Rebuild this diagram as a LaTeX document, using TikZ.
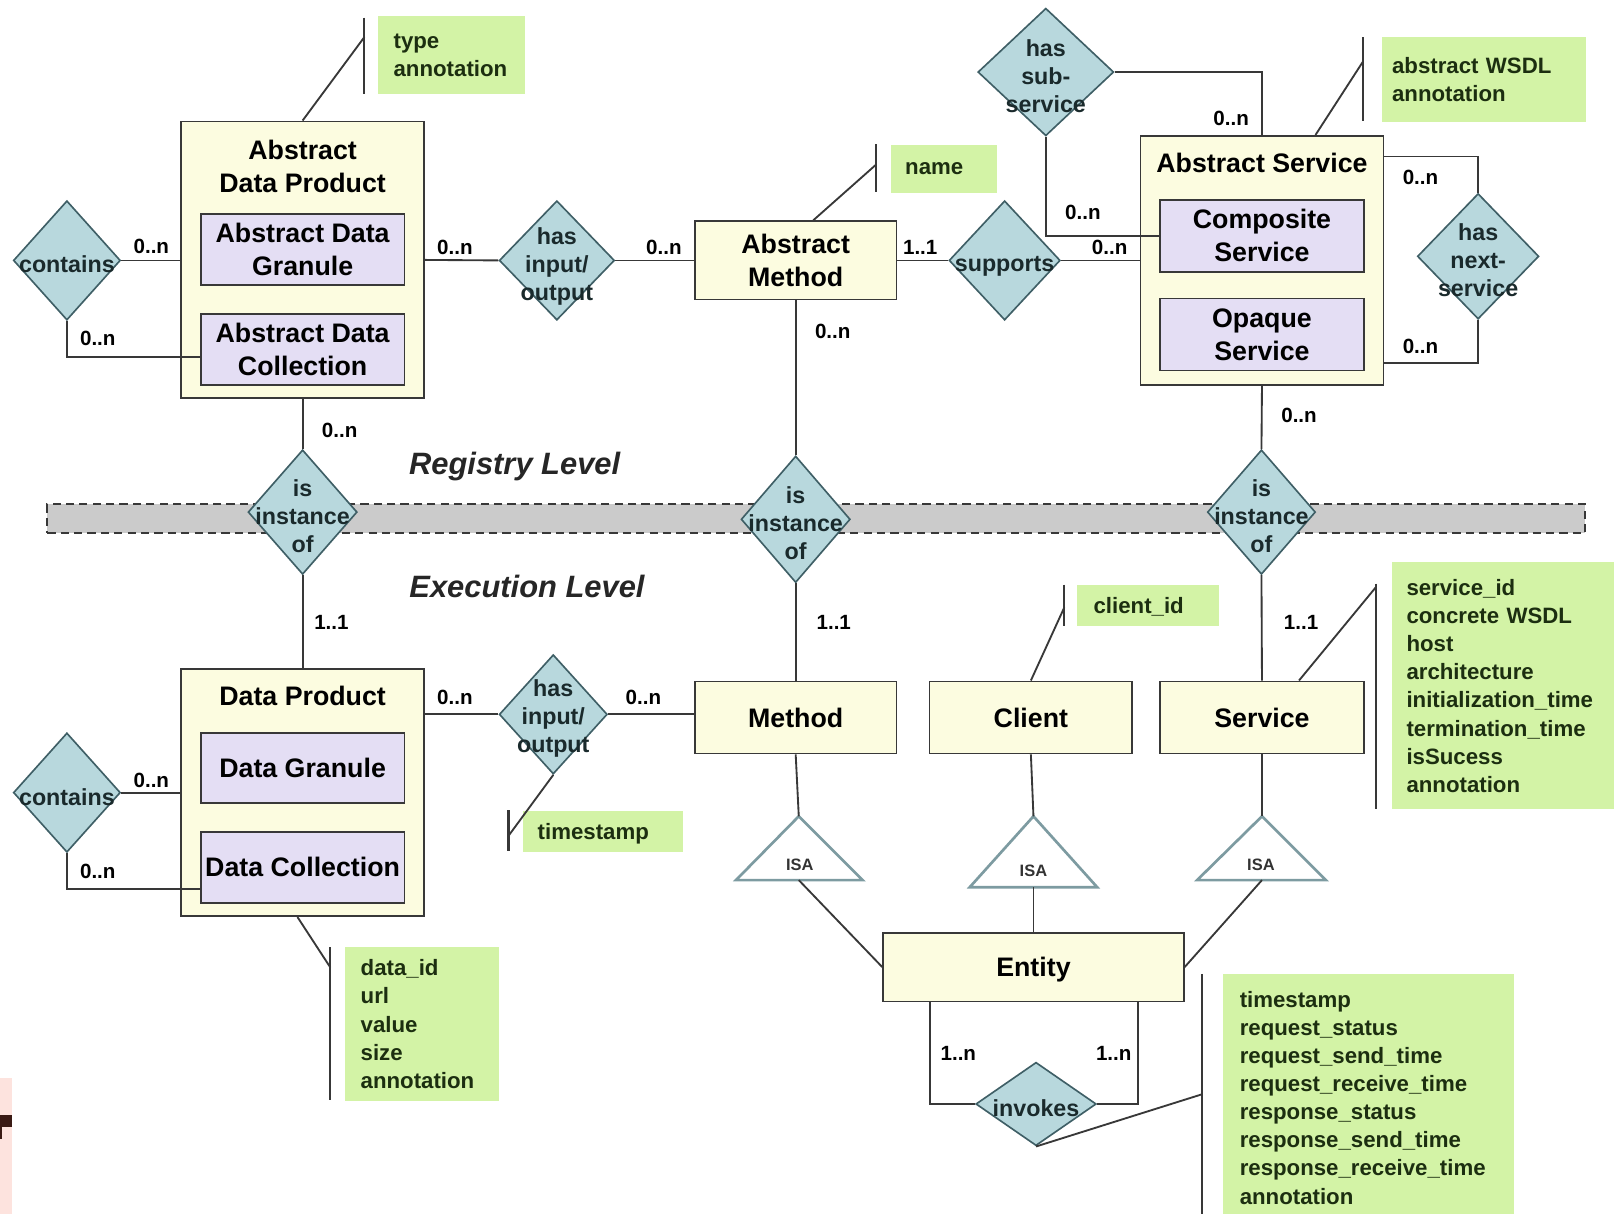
\documentclass[tikz,border=0pt]{standalone}
\usepackage{fontspec}
\setmainfont{Liberation Sans}
\usetikzlibrary{shapes.geometric,calc}
\definecolor{entfill}{HTML}{FCFCE0}
\definecolor{subfill}{HTML}{E4DEF4}
\definecolor{diafill}{HTML}{B8D8DD}
\definecolor{diaedge}{HTML}{3F5F66}
\definecolor{attrfill}{HTML}{D3F3A6}
\definecolor{attrtext}{HTML}{1C2E10}
\definecolor{bandfill}{HTML}{CBCBCB}
\definecolor{linegray}{HTML}{383838}
\definecolor{isaedge}{HTML}{7D9BA1}
\definecolor{reltext}{HTML}{1A2A2C}
\definecolor{artpink}{HTML}{FDE3DE}
\definecolor{artdark}{HTML}{3A1A14}
\newcommand{\entityfont}{\fontsize{13}{16}\selectfont\bfseries}
\newcommand{\relfont}{\fontsize{11.3}{13.7}\selectfont\bfseries}
\newcommand{\cardfont}{\fontsize{10}{12}\selectfont\bfseries}
\newcommand{\attrfont}{\fontsize{10.8}{13.65}\selectfont\bfseries}
\newcommand{\levelfont}{\fontsize{15}{18}\selectfont\bfseries\itshape}
\newcommand{\isafont}{\fontsize{8}{10}\selectfont\bfseries}
\tikzset{
  entity/.style={draw=linegray,fill=entfill,line width=0.9pt,inner sep=0pt,align=center,font=\entityfont,text=black},
  subentity/.style={entity,fill=subfill},
  oneline/.style={text depth=0pt},
  relation/.style={diamond,draw=diaedge,fill=diafill,line width=0.8pt,inner sep=0pt},
  rellabel/.style={font=\relfont,align=center,text=reltext,inner sep=0pt,yshift=-2pt},
  card/.style={font=\cardfont,text=black,inner sep=0pt},
  attrs/.style={fill=attrfill,font=\attrfont,text=attrtext,align=left,anchor=north west,inner xsep=7pt,inner ysep=0pt},
  conn/.style={draw=linegray,line width=0.9pt},
  attrbar/.style={draw=linegray,line width=1pt},
  isa/.style={draw=isaedge,fill=white,line width=1.3pt,line join=miter},
}
\begin{document}
\begin{tikzpicture}[x=0.5pt,y=-0.5pt]
\useasboundingbox (0,0) rectangle (1568,1179);
% scrap of the next slide
\fill[artpink] (0,1047) rectangle (12,1179);
\fill[artdark] (0,1083) rectangle (12,1095);
\fill[artdark] (0,1095) rectangle (2,1107);
%
% level band
\node (band) [draw=linegray,dashed,dash pattern=on 4pt off 2.5pt,fill=bandfill,line width=0.9pt,minimum width=747pt,minimum height=14pt,inner sep=0pt] at (793,504) {};
\node (reglevel) [font=\levelfont,text=black!85] at (500,453) {Registry Level};
\node (exelevel) [font=\levelfont,text=black!85] at (512,570) {Execution Level};
%
% registry level entities
\node (adp) [entity,minimum width=118pt,minimum height=134.5pt] at (294,252.5) {};
\node (adptitle) [font=\entityfont,align=center] at (294,162) {Abstract\\Data Product};
\node (adg) [subentity,minimum width=99pt,minimum height=34.5pt] at (294,242.5) {Abstract Data\\Granule};
\node (adc) [subentity,minimum width=99pt,minimum height=34.5pt] at (294,339.5) {Abstract Data\\Collection};
\node (am) [entity,minimum width=98pt,minimum height=38pt] at (773,253) {Abstract\\Method};
\node (as) [entity,minimum width=118pt,minimum height=121pt] at (1226,253) {};
\node (astitle) [font=\entityfont,oneline] at (1226,158) {Abstract Service};
\node (cs) [subentity,minimum width=99pt,minimum height=35pt] at (1226,229) {Composite\\Service};
\node (os) [subentity,minimum width=99pt,minimum height=35pt] at (1226,325) {Opaque\\Service};
%
% execution level entities
\node (dp) [entity,minimum width=118pt,minimum height=120pt] at (294,770) {};
\node (dptitle) [font=\entityfont,oneline] at (294,676) {Data Product};
\node (dg) [subentity,oneline,minimum width=99pt,minimum height=34pt] at (294,746) {Data Granule};
\node (dc) [subentity,oneline,minimum width=99pt,minimum height=34.5pt] at (294,842.5) {Data Collection};
\node (meth) [entity,oneline,minimum width=98pt,minimum height=35pt] at (773,697) {Method};
\node (cli) [entity,oneline,minimum width=98.5pt,minimum height=35pt] at (1001.5,697) {Client};
\node (serv) [entity,oneline,minimum width=99pt,minimum height=35pt] at (1226,697) {Service};
\node (ent) [entity,oneline,minimum width=146pt,minimum height=33.5pt] at (1004,939.5) {Entity};
%
% relationships
\node (cont1) [relation,minimum width=52pt,minimum height=58pt,label={[rellabel]center:contains}] at (65,253) {};
\node (hio1) [relation,minimum width=56pt,minimum height=58pt,label={[rellabel,yshift=-1pt]center:{has\\input/\\output}}] at (541,253) {};
\node (sup) [relation,minimum width=54pt,minimum height=58pt,label={[rellabel,yshift=-1pt]center:supports}] at (976,253) {};
\node (hss) [relation,minimum width=66pt,minimum height=62pt,label={[rellabel]center:{has\\sub-\\service}}] at (1016,70) {};
\node (hns) [relation,minimum width=59pt,minimum height=61pt,label={[rellabel]center:{has\\next-\\service}}] at (1436,249) {};
\node (iio1) [relation,minimum width=53pt,minimum height=60.5pt,label={[rellabel]center:{is\\instance\\of}}] at (294,497.5) {};
\node (iio2) [relation,minimum width=53pt,minimum height=61.5pt,label={[rellabel]center:{is\\instance\\of}}] at (773,504.5) {};
\node (iio3) [relation,minimum width=52.5pt,minimum height=60.5pt,label={[rellabel]center:{is\\instance\\of}}] at (1225.5,497.5) {};
\node (cont2) [relation,minimum width=52pt,minimum height=58pt,label={[rellabel]center:contains}] at (65,770) {};
\node (hio2) [relation,minimum width=52.5pt,minimum height=58pt,label={[rellabel]center:{has\\input/\\output}}] at (537.5,694) {};
\node (inv) [relation,minimum width=58.5pt,minimum height=40.5pt,label={[rellabel]center:invokes}] at (1006.5,1072.5) {};
%
% ISA triangles
\coordinate (isa1top) at (776,793); \coordinate (isa1base) at (776,855);
\coordinate (isa2top) at (1004,793); \coordinate (isa2base) at (1004,862);
\coordinate (isa3top) at (1226,793); \coordinate (isa3base) at (1226,855);
\draw[isa] (isa1top) -- (838,855) -- (715,855) -- cycle;
\draw[isa] (isa2top) -- (1066,862) -- (942,862) -- cycle;
\draw[isa] (isa3top) -- (1288,855) -- (1163,855) -- cycle;
\node (isa1) [font=\isafont,text=black!80] at (777,840) {ISA};
\node (isa2) [font=\isafont,text=black!80] at (1004,846) {ISA};
\node (isa3) [font=\isafont,text=black!80] at (1225,840) {ISA};
%
% connectors, registry level
\draw[conn] (cont1.east) -- (cont1.east -| adp.west);
\draw[conn] (cont1.south) |- ($(adc.west)+(0,7)$);
\draw[conn] (adp.east) -- (hio1.west);
\draw[conn] (hio1.east) -- (am.west);
\draw[conn] (am.east) -- (sup.west);
\draw[conn] (sup.east) -- (sup.east -| as.west);
\draw[conn] (hss.east) -| (as.north);
\draw[conn] (hss.south) |- (cs.west);
\draw[conn] ($(as.north east)+(0,21)$) -| (hns.north);
\draw[conn] (hns.south) |- ($(as.south east)+(0,-22)$);
\draw[conn] (adp.south) -- (iio1.north);
\draw[conn] (am.south) -- (iio2.north);
\draw[conn] (as.south) -- (iio3.north);
%
% connectors, execution level
\draw[conn] (iio1.south) -- (dp.north);
\draw[conn] (iio2.south) -- (meth.north);
\draw[conn] (iio3.south) -- (serv.north);
\draw[conn] (cont2.east) -- (cont2.east -| dp.west);
\draw[conn] (cont2.south) |- ($(dc.west)+(0,21)$);
\draw[conn] (hio2.west) -- (hio2.west -| dp.east);
\draw[conn] (hio2.east) -- (hio2.east -| meth.west);
\draw[conn] (meth.south) -- (isa1top);
\draw[conn] (cli.south) -- (isa2top);
\draw[conn] (serv.south) -- (isa3top);
\draw[conn] (isa1base) -- (ent.west);
\draw[conn] (isa2base) -- (ent.north);
\draw[conn] (isa3base) -- (ent.east);
\draw[conn] ($(ent.south west)+(46,0)$) |- (inv.west);
\draw[conn] ($(ent.south east)+(-45,0)$) |- (inv.east);
%
% cardinalities
\node (c1) [card] at (147,239) {0..n};
\node (c2) [card] at (95,329) {0..n};
\node (c3) [card] at (442,240) {0..n};
\node (c4) [card] at (645,240) {0..n};
\node (c5) [card] at (894,240) {1..1};
\node (c6) [card] at (1078,240) {0..n};
\node (c7) [card] at (809,322) {0..n};
\node (c8) [card] at (1196,115) {0..n};
\node (c9) [card] at (1052,206) {0..n};
\node (c10) [card] at (1380,172) {0..n};
\node (c11) [card] at (1380,337) {0..n};
\node (c12) [card] at (1262,404) {0..n};
\node (c13) [card] at (330,418) {0..n};
\node (c14) [card] at (322,605) {1..1};
\node (c15) [card] at (810,605) {1..1};
\node (c16) [card] at (1264,605) {1..1};
\node (c17) [card] at (147,758) {0..n};
\node (c18) [card] at (95,847) {0..n};
\node (c19) [card] at (442,678) {0..n};
\node (c20) [card] at (625,678) {0..n};
\node (c21) [card] at (931,1023) {1..n};
\node (c22) [card] at (1082,1023) {1..n};
%
% attributes
\node (typeattr) [attrs,inner xsep=7.5pt,text width=56.5pt,minimum height=38pt] at (367,15) {type\\annotation};
\node (nameattr) [attrs,oneline,text width=37.5pt,minimum height=23.5pt] at (865,140) {name};
\node (wsdlattr) [attrs,inner xsep=5pt,text width=89pt,minimum height=41pt] at (1342,36) {abstract WSDL\\annotation};
\node (tsattr) [attrs,oneline,text width=63.5pt,minimum height=20pt] at (508,787) {timestamp};
\node (cidattr) [attrs,oneline,inner xsep=8pt,text width=53pt,minimum height=20pt] at (1046,568) {client\_id};
\node (servattr) [attrs,text width=106pt,minimum height=120pt] at (1352,546) {service\_id\\concrete WSDL\\host\\architecture\\initialization\_time\\termination\_time\\isSucess\\annotation};
\node (dataattr) [attrs,inner xsep=7.5pt,text width=59.5pt,minimum height=74.5pt] at (335,920) {data\_id\\url\\value\\size\\annotation};
\node (invattr) [attrs,inner xsep=8pt,text width=125pt,minimum height=120pt] at (1188,946) {timestamp\\request\_status\\request\_send\_time\\request\_receive\_time\\response\_status\\response\_send\_time\\response\_receive\_time\\annotation};
%
\coordinate (typetie) at (354,36);
\coordinate (nametie) at (851,160);
\coordinate (wsdltie) at (1324,60);
\coordinate (tstie) at (494,812);
\coordinate (cidtie) at (1034,590);
\coordinate (servtie) at (1337,570);
\coordinate (datatie) at (321,940);
\coordinate (invtie) at (1168,1063);
\draw[attrbar] (354,17) -- (354,91);
\draw[attrbar] (851,140) -- (851,187);
\draw[attrbar] (1324,36) -- (1324,118);
\draw[attrbar] (494,787) -- (494,827);
\draw[attrbar] (1034,568) -- (1034,608);
\draw[attrbar] (1337,567) -- (1337,786);
\draw[attrbar] (321,920) -- (321,1069);
\draw[attrbar] (1168,946) -- (1168,1179);
\draw[conn] (adp.north) -- (typetie);
\draw[conn] ([xshift=8.5pt]am.north) -- (nametie);
\draw[conn] ([xshift=26pt]as.north) -- (wsdltie);
\draw[conn] (hio2.south) -- (tstie);
\draw[conn] (cli.north) -- (cidtie);
\draw[conn] ([xshift=18pt]serv.north) -- (servtie);
\draw[conn] ([xshift=-2.5pt]dp.south) -- (datatie);
\draw[conn] (inv.south) -- (invtie);
%
\end{tikzpicture}
\end{document}
